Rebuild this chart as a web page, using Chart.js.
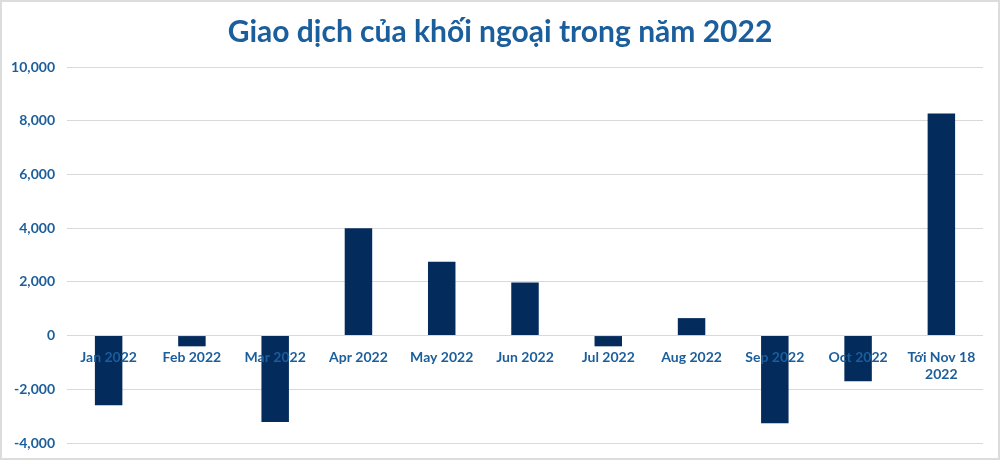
<!DOCTYPE html>
<html>
<head>
<meta charset="utf-8">
<script src="https://cdn.jsdelivr.net/npm/chart.js@4"></script>
<style>
  html, body { margin: 0; padding: 0; background: #fff; }
  #wrap {
    width: 1000px; height: 460px; box-sizing: border-box;
    border: 2px solid #dcdcdc; position: relative;
  }
</style>
</head>
<body>
<div id="wrap"><canvas id="chart"></canvas></div>
<script>
const categories = ["Jan 2022", "Feb 2022", "Mar 2022", "Apr 2022", "May 2022", "Jun 2022",
  "Jul 2022", "Aug 2022", "Sep 2022", "Oct 2022", ["Tới Nov 18", "2022"]];
const netValues = [-2590, -400, -3220, 4000, 2750, 1980, -400, 650, -3260, -1700, 8270];
const yTicks = [-4000, -2000, 0, 2000, 4000, 6000, 8000, 10000];
const chartTitle = "Giao dịch của khối ngoại trong năm 2022";

const textBlue = "#1b5e9c";
const barNavy = "#032b5c";

const ctx = document.getElementById("chart");

// titre centré sur toute la largeur (le plugin title se centre sur la zone avec padding)
const centeredTitle = {
  id: "centeredTitle",
  afterDraw(chart) {
    const c = chart.ctx;
    c.save();
    c.font = "bold 30px Lato";
    c.fillStyle = textBlue;
    c.textAlign = "center";
    c.textBaseline = "middle";
    c.fillText(chartTitle, chart.width / 2, 30);
    c.restore();
  }
};

new Chart(ctx, {
  type: "bar",
  plugins: [centeredTitle],
  data: {
    labels: categories,
    datasets: [{
      data: netValues,
      backgroundColor: barNavy,
      barPercentage: 0.33,
      categoryPercentage: 1
    }]
  },
  options: {
    responsive: true,
    maintainAspectRatio: false,
    animation: false,
    layout: { padding: { left: 0, right: 15, top: 65, bottom: 15 } },
    plugins: {
      legend: { display: false },
      tooltip: { enabled: false },
      title: { display: false }
    },
    scales: {
      x: {
        position: { y: 0 },
        grid: { display: false },
        border: { display: false },
        ticks: {
          z: 1,
          color: textBlue,
          font: { family: "Lato", size: 14, weight: "bold" },
          padding: 6,
          maxRotation: 0,
          autoSkip: false
        }
      },
      y: {
        min: -4000,
        max: 10000,
        afterFit: (scale) => {
          scale.width = 65;
          scale.paddingTop = 0;
          scale.paddingBottom = 0;
        },
        afterBuildTicks: (scale) => { scale.ticks = yTicks.map(v => ({ value: v })); },
        grid: { color: "#d9d9d9", drawTicks: false, lineWidth: 1 },
        border: { display: false },
        ticks: {
          color: textBlue,
          font: { family: "Lato", size: 14, weight: "bold" },
          padding: 12,
          callback: (v) => v.toLocaleString("en-US")
        }
      }
    }
  }
});
</script>
</body>
</html>
